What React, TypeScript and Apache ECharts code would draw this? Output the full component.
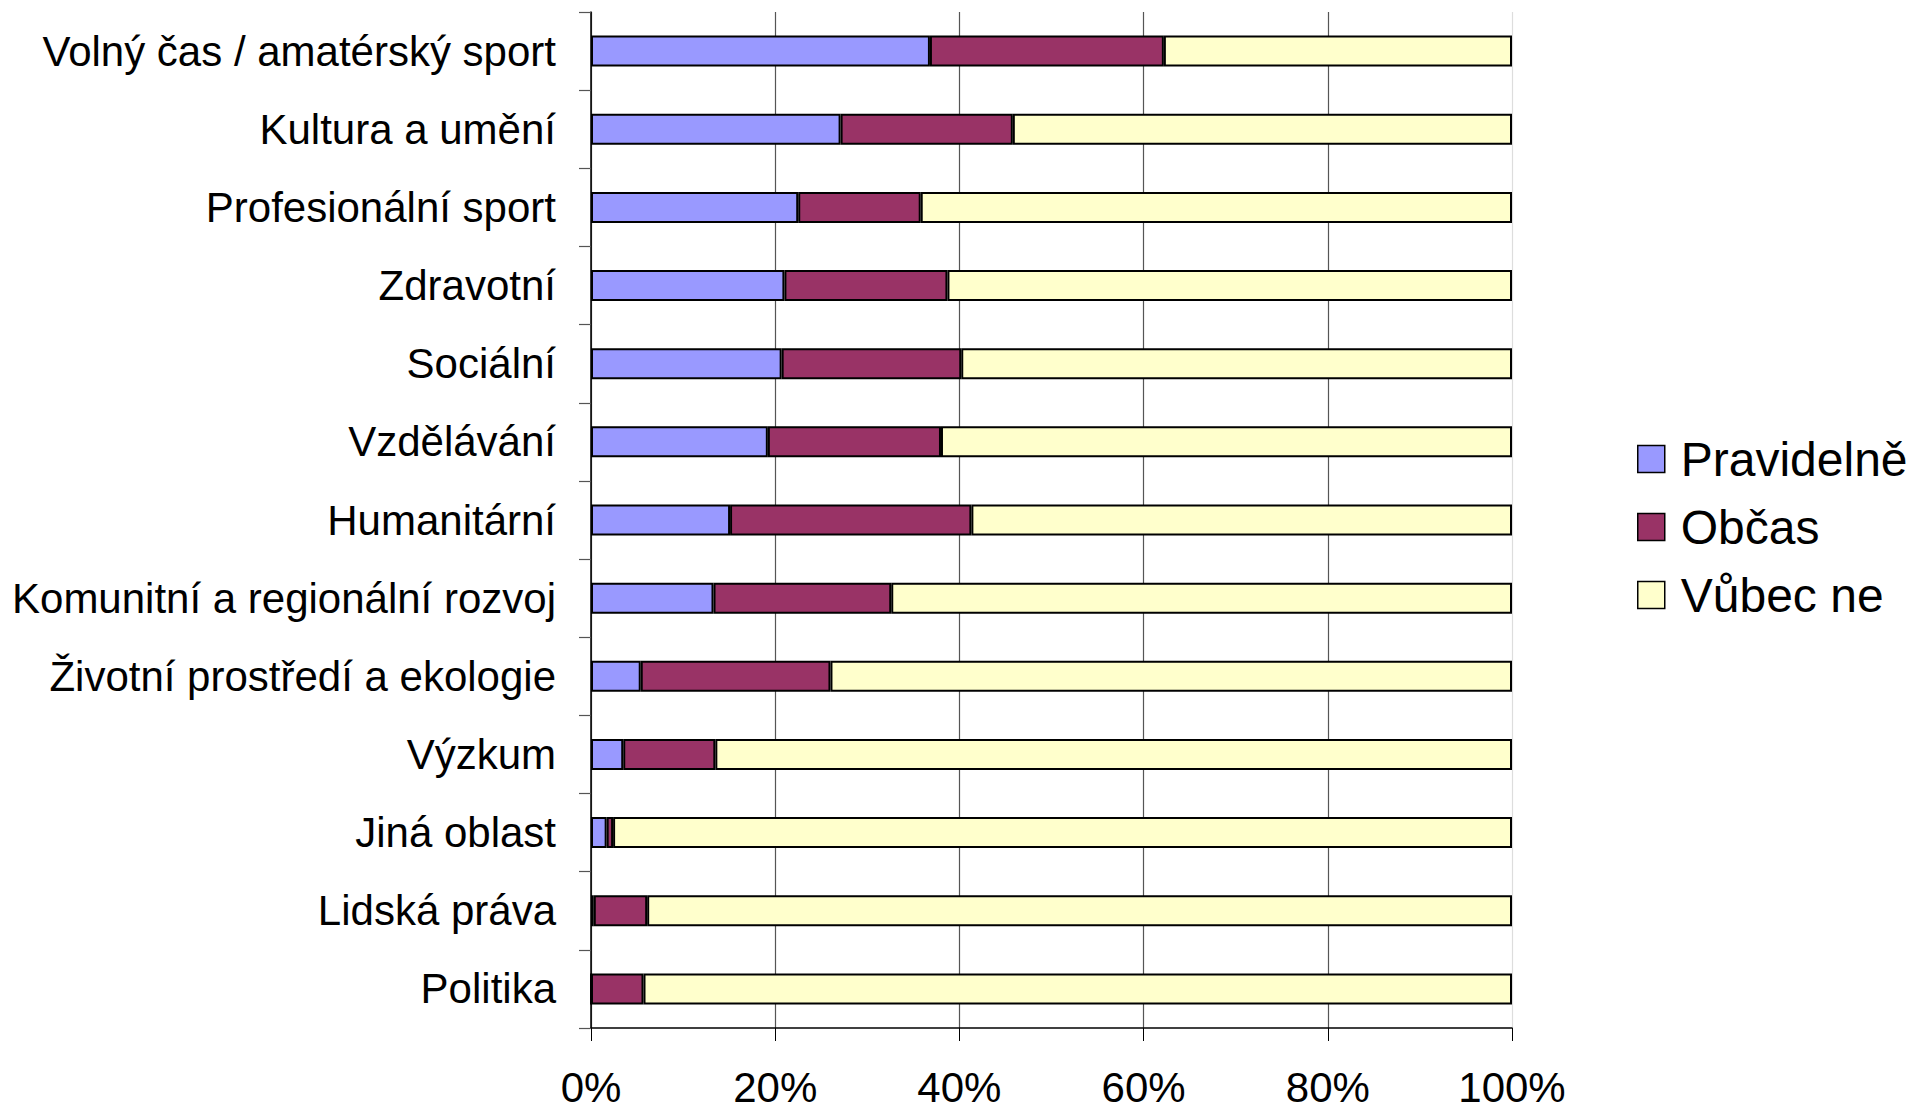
import React, { useEffect, useRef } from "react";
import * as echarts from "echarts";

const categories = [
  "Volný čas / amatérský sport",
  "Kultura a umění",
  "Profesionální sport",
  "Zdravotní",
  "Sociální",
  "Vzdělávání",
  "Humanitární",
  "Komunitní a regionální rozvoj",
  "Životní prostředí a ekologie",
  "Výzkum",
  "Jiná oblast",
  "Lidská práva",
  "Politika",
];

const seriesNames = ["Pravidelně", "Občas", "Vůbec ne"];

const pravidelne = [36.8, 27.1, 22.5, 21.0, 20.7, 19.2, 15.1, 13.3, 5.4, 3.5, 1.7, 0.3, 0];
const obcas = [25.4, 18.7, 13.3, 17.7, 19.5, 18.8, 26.2, 19.3, 20.6, 10.0, 0.7, 5.8, 5.7];
const vubecNe = [37.8, 54.2, 64.2, 61.3, 59.8, 62.0, 58.7, 67.4, 74.0, 86.5, 97.6, 93.9, 94.3];

const colors = ["#9999FF", "#993366", "#FFFFCC"];
const FONT = "'Liberation Sans', Arial, sans-serif";

export default function App() {
  const ref = useRef<HTMLDivElement>(null);

  useEffect(() => {
    if (!ref.current) return;
    const chart = echarts.init(ref.current, null, { renderer: "svg" });
    const values = [pravidelne, obcas, vubecNe];
    chart.setOption({
      animation: false,
      backgroundColor: "#ffffff",
      textStyle: { fontFamily: FONT, color: "#000" },
      grid: { left: 591, right: 418, top: 12, bottom: 81, containLabel: false },
      legend: {
        orient: "vertical",
        left: 1637,
        top: 431,
        padding: 0,
        itemWidth: 27,
        itemHeight: 27,
        itemGap: 12,
        icon: "rect",
        data: seriesNames,
        itemStyle: { borderColor: "#000", borderWidth: 1.5 },
        textStyle: { fontSize: 48, fontFamily: FONT, color: "#000", lineHeight: 56, padding: [0, 0, 0, 11] },
      },
      xAxis: {
        type: "value",
        min: 0,
        max: 100,
        interval: 20,
        axisLine: { show: true, lineStyle: { color: "#000", width: 1.5 } },
        axisTick: { show: true, length: 13, lineStyle: { color: "#000", width: 1 } },
        axisLabel: {
          formatter: "{value}%",
          fontSize: 42,
          lineHeight: 42,
          color: "#000",
          fontFamily: FONT,
          margin: 38,
        },
        splitLine: {
          show: true,
          lineStyle: { color: ["#555", "#555", "#555", "#555", "#555", "#dddddd"], width: 1.2 },
        },
      },
      yAxis: {
        type: "category",
        inverse: true,
        data: categories,
        axisLine: { show: true, lineStyle: { color: "#000", width: 1.5 } },
        axisTick: { show: true, length: 12, lineStyle: { color: "#555", width: 1.2 } },
        axisLabel: { fontSize: 42, color: "#000", fontFamily: FONT, margin: 35 },
        splitLine: { show: false },
      },
      series: seriesNames.map((name, i) => ({
        name,
        type: "bar",
        stack: "total",
        barWidth: 31,
        data: values[i],
        itemStyle: { color: colors[i], borderColor: "#000", borderWidth: 2 },
        emphasis: { disabled: true },
      })),
    });
    return () => chart.dispose();
  }, []);

  return (
    <div
      ref={ref}
      style={{ position: "fixed", left: 0, top: 0, width: 1930, height: 1109, background: "#fff" }}
    />
  );
}
